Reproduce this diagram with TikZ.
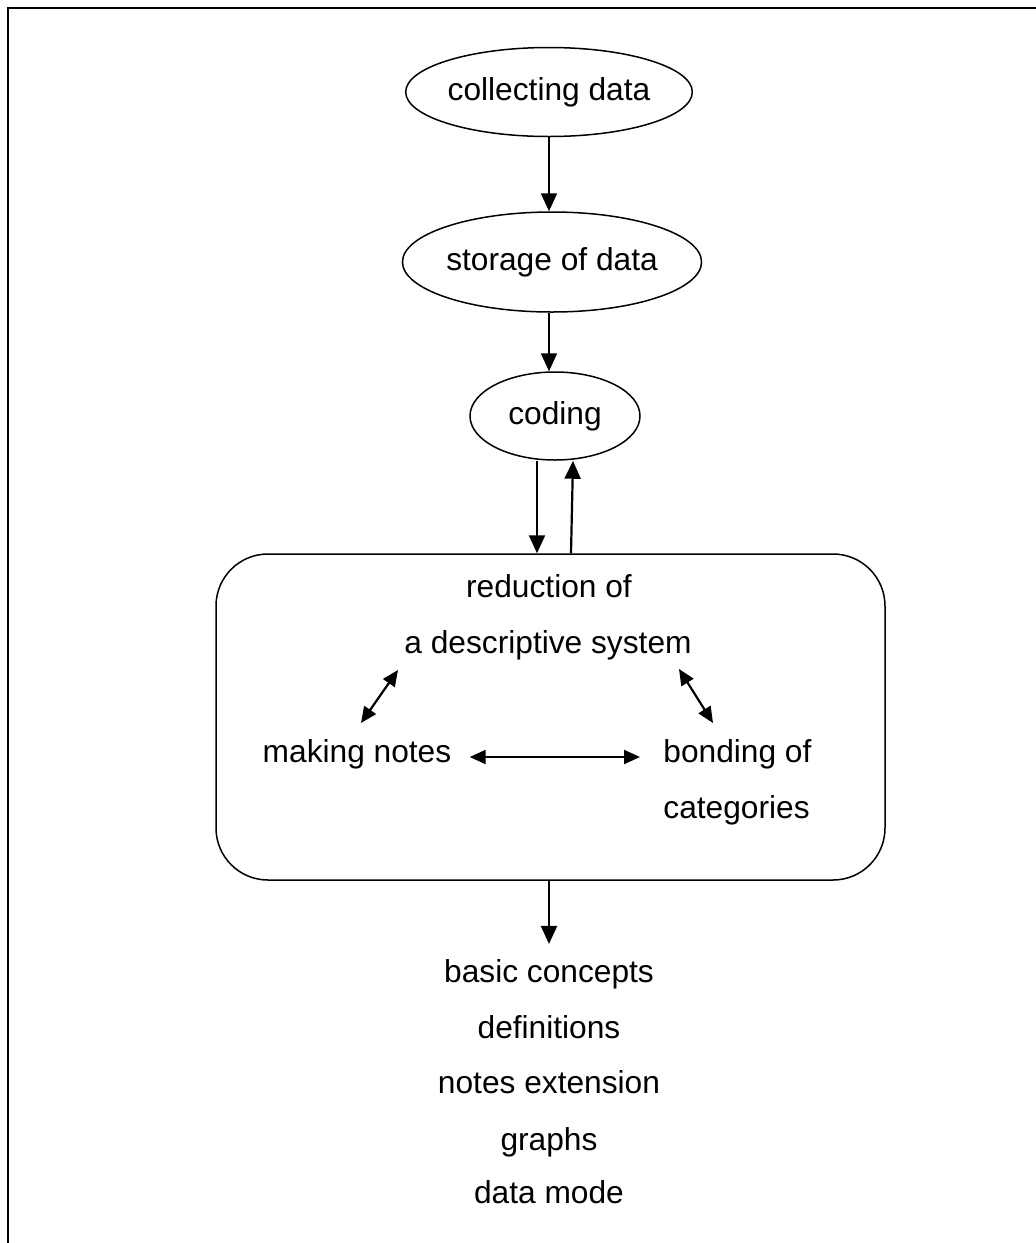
\documentclass[tikz,border=0pt]{standalone}
\usepackage{fontspec}
\setmainfont{Liberation Sans}
\usetikzlibrary{shapes.geometric,arrows.meta}
\begin{document}
\begin{tikzpicture}[x=0.5pt,y=-0.5pt,
  every node/.style={font=\fontsize{15.85}{19}\selectfont},
  oval/.style={draw,ellipse,line width=0.75pt,inner sep=0pt},
  lbl/.style={inner sep=0pt,anchor=mid},
  arr/.style={line width=1.1pt,-{Triangle[length=9pt,width=8pt]}},
  dbl/.style={line width=1.1pt,{Triangle[length=8pt,width=7pt]}-{Triangle[length=8pt,width=7pt]}},
  frame/.style={line width=1.1pt}]
\useasboundingbox (0,0) rectangle (1036,1243);
\draw[frame] (8,1243) -- (8,8) -- (1036,8);

\node[oval,minimum width=124.5pt,minimum height=44.5pt] (collect) at (549,92) {\raisebox{-1.5pt}{collecting data}};
\node[oval,minimum width=126pt,minimum height=50pt] (storage) at (552,262) {storage of data};
\node[oval,minimum width=85pt,minimum height=44pt] (coding) at (555,416) {coding};
\node[draw,line width=0.75pt,rounded corners=26pt,minimum width=334.5pt,minimum height=163pt,inner sep=0pt] (box) at (550.5,717) {};

\node[lbl] (red) at (549,592) {reduction of};
\node[lbl] (desc) at (548,648) {a descriptive system};
\node[lbl] (making) at (357,757) {making notes};
\node[lbl,anchor=mid west] (bonding) at (663,757) {bonding of};
\node[lbl,anchor=mid west] (cat) at (663,813) {categories};

\node[lbl] (bc) at (549,977) {basic concepts};
\node[lbl] (defs) at (549,1033) {definitions};
\node[lbl] (ext) at (549,1088) {notes extension};
\node[lbl] (graphs) at (549,1145) {graphs};
\node[lbl] (mode) at (549,1198) {data mode};

\coordinate (l1) at (398,670);
\coordinate (l2) at (361,723);
\coordinate (r1) at (679,669);
\coordinate (r2) at (713,723);

\draw[arr] (collect.south) -- (collect.south |- storage.north);
\draw[arr] (collect.south |- storage.south) -- (collect.south |- coding.north);
\draw[arr] ([xshift=-9pt]coding.south) -- ([xshift=-9pt]coding.south |- box.north);
\draw[arr] ([xshift=8pt]coding.south |- box.north) -- ([xshift=9pt]coding.south);
\draw[dbl] (l1) -- (l2);
\draw[dbl] (r1) -- (r2);
\draw[dbl] ([xshift=9pt]making.mid east) -- ([xshift=-11.5pt]bonding.mid west);
\draw[arr] (box.south -| bc) -- ([yshift=7.5pt]bc.north);
\end{tikzpicture}
\end{document}
